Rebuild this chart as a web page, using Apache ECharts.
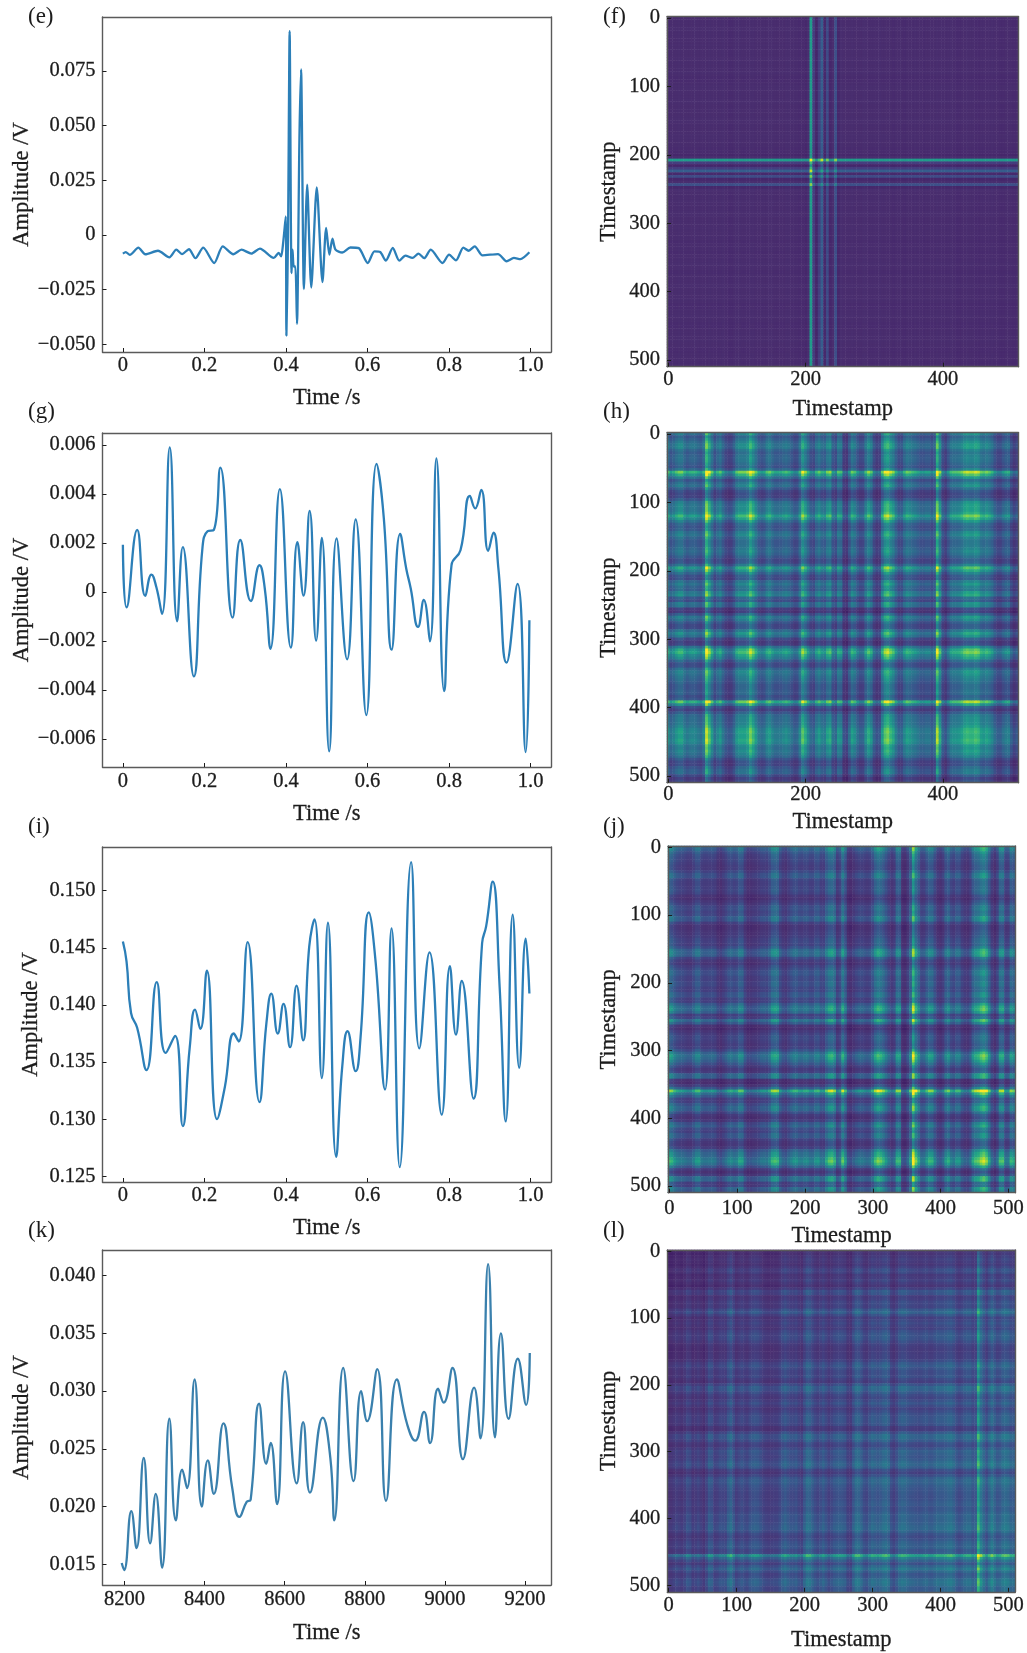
<!DOCTYPE html>
<html><head><meta charset="utf-8">
<style>html,body{margin:0;padding:0;background:#fff}#c{width:1027px;height:1653px;filter:blur(0.55px)}</style>
<script src="https://cdn.jsdelivr.net/npm/echarts@6/dist/echarts.min.js"></script>
</head><body><div id="c"></div>
<script>
// ---- line panels: values ----
const timeE=[0,.007,.017,.038,.055,.086,.114,.131,.145,.162,.178,.197,.224,.245,.271,.291,.315,.336,.37,.382,.388,.393,.3995,.401,.405,.409,.4135,.416,.419,.423,.427,.433,.437,.444,.452,.462,.4755,.4895,.4985,.5065,.514,.5215,.538,.558,.5785,.6005,.617,.631,.645,.662,.678,.693,.71,.725,.739,.755,.784,.8,.817,.835,.848,.863,.882,.92,.941,.959,.975,.997];
const ampE=[-.0085,-.0078,-.0091,-.0058,-.0088,-.0072,-.0102,-.0067,-.0087,-.0065,-.0106,-.0058,-.0128,-.0052,-.0088,-.0067,-.0085,-.0062,-.0105,-.0082,-.0098,-.0037,.0085,-.046,-.0006,.0932,-.0174,-.0067,-.0144,-.0144,-.0406,.0444,.0757,-.0247,.023,-.024,.0218,-.0215,.0032,-.009,-.0017,-.0067,-.008,-.0057,-.006,-.0128,-.0075,-.0078,-.0117,-.0059,-.0117,-.0094,-.0105,-.0085,-.0106,-.0067,-.0128,-.009,-.0116,-.0058,-.0072,-.0052,-.0093,-.0087,-.012,-.0105,-.011,-.0079];
const timeG=[0,.009,.035,.055,.07,.082,.096,.115,.133,.147,.174,.195,.208,.223,.239,.269,.288,.314,.335,.348,.362,.385,.412,.428,.443,.458,.474,.488,.506,.524,.55,.571,.597,.622,.64,.659,.68,.695,.706,.724,.738,.753,.769,.788,.806,.828,.851,.864,.879,.896,.909,.921,.941,.968,.988,.997];
const ampG=[.00193,-.00063,.00253,-.00016,.00071,.0002,-.0009,.0059,-.0012,.00183,-.00345,.00177,.00248,.00253,.00508,-.00105,.00212,-.00037,.00109,.00014,-.00232,.0042,-.00227,.00203,-.00015,.00331,-.00199,.00221,-.00651,.00219,-.00275,.00296,-.00503,.00523,.003,-.00236,.00237,.00095,.00014,-.00143,-.00033,-.00202,.00545,-.00405,.00109,.0017,.00392,.00341,.00417,.00168,.00242,.00095,-.00289,.00033,-.00654,-.00116];
const timeI=[0,.009,.02,.035,.058,.083,.105,.128,.147,.164,.177,.19,.206,.231,.25,.272,.284,.306,.335,.352,.364,.38,.394,.41,.426,.442,.457,.47,.488,.503,.523,.538,.551,.571,.583,.603,.62,.643,.659,.679,.707,.727,.752,.782,.802,.817,.831,.86,.881,.891,.907,.924,.939,.956,.972,.988,.997];
const ampI=[.14556,.1438,.1393,.138,.1343,.142,.1358,.1373,.1294,.1363,.1396,.1379,.143,.13,.1328,.1375,.1368,.1455,.1315,.1384,.141,.1375,.1401,.1363,.1417,.1369,.1451,.1475,.1336,.1472,.1267,.1346,.1377,.1342,.1372,.1481,.1437,.1326,.1467,.1258,.1525,.1362,.1446,.1304,.1434,.1374,.1421,.1318,.1454,.1469,.1508,.1416,.1298,.1479,.1345,.1458,.141];
const timeK=[8193,8199,8217,8230,8248,8264,8278,8294,8312,8328,8344,8356,8375,8393,8408,8423,8447,8469,8487,8505,8515,8536,8554,8565,8581,8601,8630,8646,8663,8695,8714,8724,8746,8772,8791,8806,8831,8853,8880,8906,8926,8948,8963,8983,8997,9019,9045,9073,9089,9108,9125,9140,9159,9182,9203,9212];
const ampK=[.0151,.0145,.0196,.0164,.0242,.0168,.0211,.0147,.0276,.0188,.0232,.0216,.031,.02,.024,.0211,.0272,.0216,.0191,.0204,.0206,.0289,.0237,.0255,.0202,.0317,.022,.0273,.0212,.0277,.0242,.0188,.032,.0222,.03,.0274,.0319,.0205,.031,.0271,.0257,.0282,.0255,.0302,.029,.032,.0241,.0303,.0259,.041,.026,.035,.0276,.0328,.0288,.0333];
// ---- tick lists ----
const ticksUnit=[0,.2,.4,.6,.8,1];
const ticksYearK=[8200,8400,8600,8800,9000,9200];
const ticksAmpE=[-.05,-.025,0,.025,.05,.075];
const ticksAmpG=[-.006,-.004,-.002,0,.002,.004,.006];
const ticksAmpI=[.125,.13,.135,.14,.145,.15];
const ticksAmpK=[.015,.02,.025,.03,.035,.04];
const stampsSparse=[0,200,400];
const stampsDense=[0,100,200,300,400,500];
// ---- matrix panels: band strength per 4 timestamps, read along each image's axes (the images are symmetric) ----
const bandF=[7,7,7,7,8,7,7,7,7,7,8,7,7,7,7,8,7,7,7,7,8,7,6,6,7,8,8,7,7,7,8,8,7,7,7,7,7,8,8,7,7,7,7,8,8,7,7,7,6,6,4,8,85,22,2,22,45,5,32,3,8,35,4,9,7,7,7,8,7,7,7,8,8,7,7,7,7,8,7,7,7,7,6,7,7,7,6,7,7,7,8,7,7,6,7,7,7,7,8,7,7,7,7,8,7,6,6,7,7,8,7,7,6,6,7,7,7,7,8,7,7,6,6,7,7,7,6,7];
const bandH=[26,16,20,25,29,29,22,18,21,22,21,18,15,23,52,40,27,15,22,26,17,10,7,8,15,26,29,29,29,33,44,36,27,18,15,17,25,28,22,18,18,19,22,24,21,16,11,12,23,40,32,22,13,11,22,27,21,19,29,32,16,12,26,24,5,2,15,28,24,15,10,11,24,32,26,11,5,7,27,40,44,36,31,20,12,12,22,28,26,23,21,18,15,15,17,17,12,16,50,32,12,6,15,23,25,25,26,29,34,36,34,34,37,35,28,26,29,26,22,14,9,9,15,19,20,10,3,7];
const bandJ=[30,27,21,17,15,14,12,10,10,15,21,22,14,12,12,13,14,12,6,4,8,12,17,18,15,17,24,23,11,5,5,7,8,10,13,14,13,18,28,30,28,15,9,7,12,16,20,20,16,15,18,18,14,14,20,21,14,14,25,32,34,28,11,16,33,22,5,2,7,11,14,14,12,10,12,19,30,36,33,28,21,14,8,11,28,28,4,2,10,24,54,36,25,13,14,22,28,27,17,8,5,10,22,26,17,14,21,21,12,8,7,12,25,31,33,39,43,37,25,11,5,12,30,31,14,14,28,25];
const bandL=[2,2,5,8,6,4,8,14,12,5,7,10,6,2,9,19,17,8,9,13,13,12,21,26,17,9,12,15,12,10,15,18,19,18,14,10,8,7,8,9,9,13,19,22,18,15,15,17,12,9,19,27,26,20,15,12,16,20,15,10,13,17,19,20,19,17,9,8,19,27,27,22,15,13,19,24,22,20,22,26,28,24,14,10,16,23,26,25,22,20,19,18,17,18,20,21,18,18,21,24,23,23,25,27,28,24,18,15,18,22,24,24,19,21,54,36,26,18,26,33,26,20,22,28,30,28,23,23];
const colormap=['#3e1a63','#4a2f70','#443f80','#39568c','#2f6d8e','#26828e','#1f9e89','#35b779','#6ece58','#b5de2b','#fde725'];

const FONT='"Liberation Serif",serif', INK='#1c1c1c', EDGE='#5a5a5a', BLUE='#2c7fb8';
const inkText={color:INK,fontFamily:FONT,textBorderColor:INK,textBorderWidth:0.3};
const minusFmt=(d)=>(v)=>{const n=+v; if(Math.abs(n)<1e-9) return '0'; return (n<0?'\u2212':'')+Math.abs(n).toFixed(d);};

const option={animation:false,backgroundColor:'#fff',grid:[],xAxis:[],yAxis:[],series:[],
 graphic:[],
 visualMap:[{show:false,type:'continuous',min:0,max:1,dimension:2,seriesIndex:[],inRange:{color:colormap}}]};

function frameAxes(g){
  const hidden={gridIndex:g,type:'value',min:0,max:1,z:5,silent:true,
    axisLine:{show:true,onZero:false,lineStyle:{color:EDGE,width:1.4}},
    axisTick:{show:false},axisLabel:{show:false},splitLine:{show:false}};
  option.xAxis.push(Object.assign({position:'top'},hidden));
  option.yAxis.push(Object.assign({position:'right'},hidden));
}
function common(name,gap,size){
  return {name,nameLocation:'middle',nameGap:gap,
    nameTextStyle:Object.assign({fontSize:size},inkText),
    axisLine:{show:true,onZero:false,lineStyle:{color:EDGE,width:1.4}},
    splitLine:{show:false},z:5};
}
function linePanel(p){
  const g=option.grid.length;
  option.grid.push({left:p.left,top:p.top,width:p.w,height:p.h,show:false});
  const xi=option.xAxis.length, yi=option.yAxis.length;
  option.xAxis.push(Object.assign(common('Time /s',p.xGap,22.5),{gridIndex:g,type:'value',position:'bottom',min:p.xr[0],max:p.xr[1],
    axisTick:{show:true,inside:true,length:4,customValues:p.xt,lineStyle:{color:INK,width:1}},
    axisLabel:Object.assign({show:true,customValues:p.xt,margin:p.xm,fontSize:20.5,formatter:p.xf},inkText)}));
  option.yAxis.push(Object.assign(common('Amplitude /V',p.yGap,22.5),{gridIndex:g,type:'value',position:'left',min:p.yr[0],max:p.yr[1],
    axisTick:{show:true,inside:true,length:4,customValues:p.yt,lineStyle:{color:INK,width:1}},
    axisLabel:Object.assign({show:true,customValues:p.yt,margin:7,padding:[2,0,0,0],fontSize:20.5,formatter:minusFmt(3)},inkText)}));
  frameAxes(g);
  option.series.push({type:'line',xAxisIndex:xi,yAxisIndex:yi,showSymbol:false,smooth:p.smooth,
    lineStyle:{color:p.color,width:2.3},data:p.x.map((t,i)=>[t,p.y[i]]),silent:true,clip:true});
}
function imagePanel(p){
  const g=option.grid.length;
  option.grid.push({left:p.left,top:p.top,width:p.w,height:p.h,show:false});
  const cats=p.band.map((_,i)=>String(i*4));
  const xi=option.xAxis.length, yi=option.yAxis.length;
  const shown=(list)=>(idx)=>list.indexOf(idx*4)>=0;
  option.xAxis.push(Object.assign(common('Timestamp',p.xGap,22.5),{gridIndex:g,type:'category',position:'bottom',data:cats,
    axisTick:{show:true,inside:true,length:4,alignWithLabel:true,interval:shown(p.xt),lineStyle:{color:INK,width:1}},
    axisLabel:Object.assign({show:true,interval:shown(p.xt),margin:p.xm,fontSize:20.5},inkText)}));
  option.yAxis.push(Object.assign(common('Timestamp',p.yGap,22.5),{gridIndex:g,type:'category',position:'left',inverse:true,data:cats,
    axisTick:{show:true,inside:true,length:4,alignWithLabel:true,interval:shown(stampsDense),lineStyle:{color:INK,width:1}},
    axisLabel:Object.assign({show:true,interval:shown(stampsDense),margin:7,padding:[p.ypad,0,0,0],fontSize:20.5},inkText)}));
  frameAxes(g);
  const cells=[];
  p.band.forEach((a,i)=>p.band.forEach((b,j)=>cells.push([i,j,p.alpha*(a+b)/100+p.beta*a*b/10000])));
  option.visualMap[0].seriesIndex.push(option.series.length);
  option.series.push({type:'heatmap',xAxisIndex:xi,yAxisIndex:yi,data:cells,progressive:0,silent:true,emphasis:{disabled:true},itemStyle:{borderWidth:0}});
}
const unitFmt=(v)=>{const n=+v; return n===0?'0':n.toFixed(1);};
const plainFmt=(v)=>String(v);
const L=102.5,W=448.5;
linePanel({left:L,top:17,w:W,h:335,x:timeE,y:ampE,xr:[-.05,1.05],yr:[-.0535,.0997],xt:ticksUnit,yt:ticksAmpE,xf:unitFmt,xm:3,xGap:35,yGap:69,color:BLUE,smooth:.25});
linePanel({left:L,top:433,w:W,h:334,x:timeG,y:ampG,xr:[-.05,1.05],yr:[-.00715,.00649],xt:ticksUnit,yt:ticksAmpG,xf:unitFmt,xm:4,xGap:36,yGap:69,color:BLUE,smooth:.5});
linePanel({left:L,top:847,w:W,h:335,x:timeI,y:ampI,xr:[-.05,1.05],yr:[.1245,.15383],xt:ticksUnit,yt:ticksAmpI,xf:unitFmt,xm:3,xGap:35,yGap:60,color:BLUE,smooth:.5});
linePanel({left:L,top:1250,w:W,h:335,x:timeK,y:ampK,xr:[8145,9265],yr:[.0132,.04222],xt:ticksYearK,yt:ticksAmpK,xf:plainFmt,xm:4,xGap:37,yGap:69,color:'#3a80ad',smooth:.5});
imagePanel({left:667,top:16.7,w:351.5,h:350,band:bandF,alpha:.62,beta:.3,xt:stampsSparse,xm:2,xGap:31,yGap:46,ypad:3});
imagePanel({left:667,top:432.7,w:351.5,h:350,band:bandH,alpha:.64,beta:2,xt:stampsSparse,xm:1,xGap:28,yGap:46,ypad:0});
imagePanel({left:668,top:846,w:347.7,h:346.7,band:bandJ,alpha:.6,beta:2.4,xt:stampsDense,xm:5,xGap:32,yGap:47,ypad:0});
imagePanel({left:667.3,top:1250,w:348.7,h:345.7,band:bandL,alpha:.58,beta:1.8,xt:stampsDense,xm:3,xGap:37,yGap:47,ypad:1});
const tags=[['(e)',28,16.5],['(f)',603,16.5],['(g)',28,411],['(h)',603,411],['(i)',28,826],['(j)',603,826],['(k)',28,1230],['(l)',603,1230]];
option.graphic=tags.map(t=>({type:'text',left:t[1],top:t[2]-11,silent:true,z:10,style:{text:t[0],fontFamily:FONT,fontSize:23,fill:INK}}));
const chart=echarts.init(document.getElementById('c'),null,{renderer:'canvas'});
chart.setOption(option);
</script></body></html>
